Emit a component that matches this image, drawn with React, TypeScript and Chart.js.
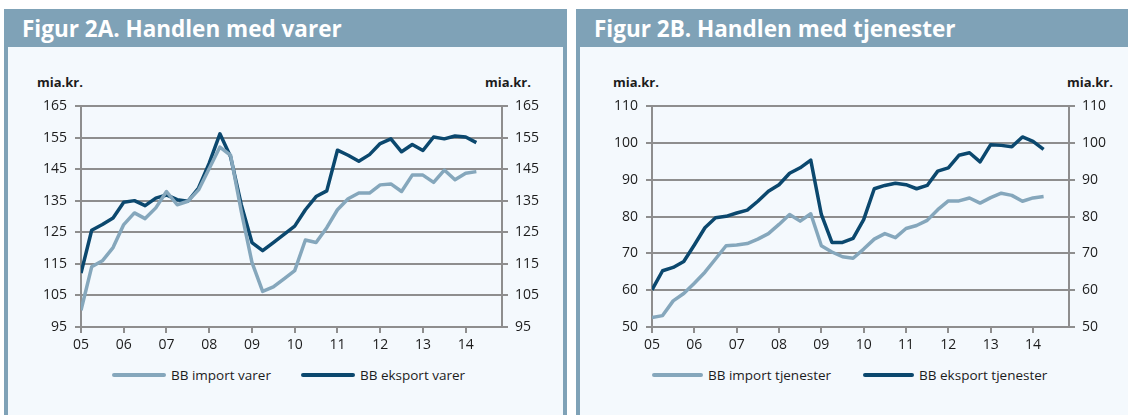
import React, { useEffect, useRef } from "react";
import { Chart, registerables } from "chart.js";

Chart.register(...registerables);

// ---------- data ----------
const QUARTERS = [
  "05K1", "05K2", "05K3", "05K4", "06K1", "06K2", "06K3", "06K4",
  "07K1", "07K2", "07K3", "07K4", "08K1", "08K2", "08K3", "08K4",
  "09K1", "09K2", "09K3", "09K4", "10K1", "10K2", "10K3", "10K4",
  "11K1", "11K2", "11K3", "11K4", "12K1", "12K2", "12K3", "12K4",
  "13K1", "13K2", "13K3", "13K4", "14K1", "14K2",
];
const YEAR_LABELS = ["05", "06", "07", "08", "09", "10", "11", "12", "13", "14"];

const VARER_IMPORT = [
  100.3, 114.1, 116.0, 120.2, 127.5, 131.2, 129.4, 132.8,
  138.0, 133.8, 134.9, 138.5, 145.3, 152.1, 149.5, 131.7,
  115.5, 106.3, 107.7, 110.3, 112.9, 122.6, 121.8, 126.5,
  132.2, 135.7, 137.5, 137.5, 140.1, 140.4, 138.0, 143.2,
  143.2, 140.9, 144.8, 141.7, 143.8, 144.3,
];
const VARER_EKSPORT = [
  112.1, 125.7, 127.5, 129.6, 134.6, 135.1, 133.5, 135.9,
  136.9, 135.4, 134.9, 139.1, 147.0, 156.3, 149.0, 133.8,
  121.8, 119.2, 121.8, 124.4, 127.0, 132.2, 136.4, 138.2,
  151.1, 149.5, 147.6, 149.7, 153.2, 154.7, 150.6, 152.9,
  151.0, 155.3, 154.7, 155.6, 155.3, 153.5,
];
const TJEN_IMPORT = [
  52.6, 53.1, 57.1, 59.1, 61.9, 64.9, 68.5, 72.1,
  72.3, 72.7, 73.9, 75.4, 77.9, 80.6, 78.8, 80.8,
  72.1, 70.4, 69.1, 68.7, 71.2, 73.9, 75.4, 74.3,
  76.8, 77.6, 79.0, 81.9, 84.3, 84.3, 85.1, 83.7,
  85.2, 86.4, 85.8, 84.2, 85.1, 85.5,
];
const TJEN_EKSPORT = [
  60.1, 65.3, 66.2, 67.8, 72.3, 77.0, 79.7, 80.1,
  81.0, 81.8, 84.2, 86.9, 88.7, 91.8, 93.3, 95.4,
  80.6, 73.0, 73.0, 74.1, 79.2, 87.6, 88.5, 89.1,
  88.7, 87.6, 88.5, 92.4, 93.3, 96.7, 97.4, 94.9,
  99.6, 99.4, 99.0, 101.7, 100.5, 98.3,
];
const VARER_TICKS = [95, 105, 115, 125, 135, 145, 155, 165];
const TJEN_TICKS = [50, 60, 70, 80, 90, 100, 110];

// ---------- style ----------
const BAR = "#7fa2b7";
const BODY = "#f4f9fd";
const C_IMPORT = "#85a7bc";
const C_EKSPORT = "#0b486e";
const GRID = "#8e8e8e";
const TEXT = "#1c1c1c";
const FONT = "'Open Sans', Lato, sans-serif";

type PanelChartProps = {
  left: number;
  top: number;
  width: number;
  height: number;
  leftW: number;
  rightW: number;
  importData: number[];
  eksportData: number[];
  importLabel: string;
  eksportLabel: string;
  yTicks: number[];
};

function PanelChart(p: PanelChartProps) {
  const ref = useRef<HTMLCanvasElement | null>(null);
  useEffect(() => {
    if (!ref.current) return;
    const yMin = p.yTicks[0];
    const yMax = p.yTicks[p.yTicks.length - 1];
    const tickFont = { family: FONT, size: 14 };
    const setY = (s: any) => {
      s.ticks = p.yTicks.map((v) => ({ value: v }));
    };
    const chart = new Chart(ref.current, {
      type: "line",
      data: {
        datasets: [
          {
            label: p.importLabel,
            data: p.importData.map((v, i) => ({ x: i, y: v, q: QUARTERS[i] })),
            borderColor: C_IMPORT,
            backgroundColor: C_IMPORT,
            borderWidth: 3.5,
            pointRadius: 0,
            tension: 0,
            borderJoinStyle: "round",
            yAxisID: "y",
          },
          {
            label: p.eksportLabel,
            data: p.eksportData.map((v, i) => ({ x: i, y: v, q: QUARTERS[i] })),
            borderColor: C_EKSPORT,
            backgroundColor: C_EKSPORT,
            borderWidth: 3.5,
            pointRadius: 0,
            tension: 0,
            borderJoinStyle: "round",
            yAxisID: "y",
          },
        ],
      },
      options: {
        responsive: false,
        animation: false,
        layout: { padding: { top: 14, left: 0, right: 0, bottom: 0 } },
        plugins: { legend: { display: false }, tooltip: { enabled: false } },
        scales: {
          x: {
            type: "linear",
            min: 0,
            max: 39.4,
            position: "bottom",
            afterBuildTicks: (s: any) => {
              s.ticks = YEAR_LABELS.map((_, k) => ({ value: k * 4 }));
            },
            afterFit: (s: any) => {
              s.height = 33;
            },
            ticks: {
              callback: (_v: any, idx: number) => YEAR_LABELS[idx],
              font: tickFont,
              color: TEXT,
              padding: 4,
              maxRotation: 0,
              autoSkip: false,
            },
            grid: { drawOnChartArea: false, drawTicks: true, tickLength: 6, color: GRID, lineWidth: 2 },
            border: { display: true, color: GRID, width: 2 },
          },
          y: {
            type: "linear",
            position: "left",
            min: yMin,
            max: yMax,
            afterBuildTicks: setY,
            afterFit: (s: any) => {
              s.width = p.leftW;
            },
            ticks: { font: tickFont, color: TEXT, padding: 8 },
            grid: { drawOnChartArea: true, drawTicks: true, tickLength: 6, color: GRID, lineWidth: 2 },
            border: { display: true, color: GRID, width: 2 },
          },
          y2: {
            type: "linear",
            position: "right",
            min: yMin,
            max: yMax,
            afterBuildTicks: setY,
            afterFit: (s: any) => {
              s.width = p.rightW;
            },
            ticks: { font: tickFont, color: TEXT, padding: 7 },
            grid: { drawOnChartArea: false, drawTicks: true, tickLength: 6, color: GRID, lineWidth: 2 },
            border: { display: true, color: GRID, width: 2 },
          },
        },
      },
    } as any);
    return () => chart.destroy();
  }, []);
  return (
    <canvas
      ref={ref}
      width={p.width}
      height={p.height}
      style={{ position: "absolute", left: p.left, top: p.top, width: p.width, height: p.height }}
    />
  );
}

function Legend({ left, top, sample, gap, items }: { left: number; top: number; sample: number; gap: number; items: { label: string; color: string }[] }) {
  return (
    <div
      style={{
        position: "absolute",
        left,
        top,
        height: 20,
        display: "flex",
        alignItems: "center",
        fontFamily: FONT,
        fontSize: 13.5,
        color: TEXT,
        whiteSpace: "nowrap",
      }}
    >
      {items.map((it, i) => (
        <div key={i} style={{ display: "flex", alignItems: "center", marginRight: i === 0 ? gap : 0 }}>
          <span style={{ display: "inline-block", width: sample, height: 4, borderRadius: 2, background: it.color }} />
          <span style={{ marginLeft: 5 }}>{it.label}</span>
        </div>
      ))}
    </div>
  );
}

const textStyle = (left: number, top: number, extra: any = {}) => ({
  position: "absolute" as const,
  left,
  top,
  fontFamily: FONT,
  color: TEXT,
  whiteSpace: "nowrap" as const,
  ...extra,
});

const titleStyle = {
  position: "absolute" as const,
  left: 18,
  top: 0,
  height: 38,
  display: "flex",
  alignItems: "center",
  color: "#fff",
  fontFamily: FONT,
  fontWeight: 700,
  fontSize: 22.5,
  whiteSpace: "nowrap" as const,
};

export default function App() {
  return (
    <div style={{ position: "absolute", left: 0, top: 0, width: 1128, height: 415, background: "#fff", overflow: "hidden" }}>
      {/* Panel A */}
      <div style={{ position: "absolute", left: 4, top: 9, width: 563, height: 420, background: BAR }}>
        <div style={{ position: "absolute", left: 4, right: 4, top: 38, bottom: 0, background: BODY }} />
        <div style={titleStyle}>Figur 2A. Handlen med varer</div>
      </div>
      {/* Panel B */}
      <div style={{ position: "absolute", left: 576, top: 9, width: 556, height: 420, background: BAR }}>
        <div style={{ position: "absolute", left: 4, right: 4, top: 38, bottom: 0, background: BODY }} />
        <div style={titleStyle}>Figur 2B. Handlen med tjenester</div>
      </div>

      <div style={textStyle(37, 74, { fontSize: 13, fontWeight: 700, lineHeight: "16px" })}>mia.kr.</div>
      <div style={textStyle(485, 74, { fontSize: 13, fontWeight: 700, lineHeight: "16px" })}>mia.kr.</div>
      <div style={textStyle(613, 74, { fontSize: 13, fontWeight: 700, lineHeight: "16px" })}>mia.kr.</div>
      <div style={textStyle(1067, 74, { fontSize: 13, fontWeight: 700, lineHeight: "16px" })}>mia.kr.</div>

      <PanelChart
        left={20}
        top={90}
        width={530}
        height={270}
        leftW={61}
        rightW={48}
        importData={VARER_IMPORT}
        eksportData={VARER_EKSPORT}
        importLabel="BB import varer"
        eksportLabel="BB eksport varer"
        yTicks={VARER_TICKS}
      />
      <PanelChart
        left={590}
        top={90}
        width={530}
        height={270}
        leftW={62}
        rightW={51}
        importData={TJEN_IMPORT}
        eksportData={TJEN_EKSPORT}
        importLabel="BB import tjenester"
        eksportLabel="BB eksport tjenester"
        yTicks={TJEN_TICKS}
      />

      <Legend
        left={112}
        top={365}
        sample={54}
        gap={30}
        items={[
          { label: "BB import varer", color: C_IMPORT },
          { label: "BB eksport varer", color: C_EKSPORT },
        ]}
      />
      <Legend
        left={652}
        top={365}
        sample={51}
        gap={32}
        items={[
          { label: "BB import tjenester", color: C_IMPORT },
          { label: "BB eksport tjenester", color: C_EKSPORT },
        ]}
      />
    </div>
  );
}
